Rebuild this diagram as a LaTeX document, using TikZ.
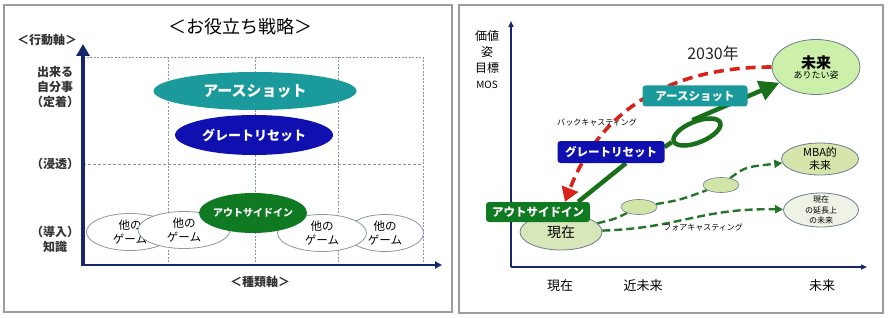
\documentclass[tikz,border=0pt]{standalone}
\usepackage{fontspec}
\setmainfont{Noto Sans CJK JP}
\usetikzlibrary{shapes.geometric,arrows.meta,backgrounds}

\definecolor{frameGray}{HTML}{9C9C9C}
\definecolor{axisNavy}{HTML}{17276B}
\definecolor{gridBlue}{HTML}{8893B0}
\definecolor{earthTeal}{HTML}{1B9A9C}
\definecolor{resetBlue}{HTML}{1010B0}
\definecolor{outGreen}{HTML}{0F7A22}
\definecolor{pathGreen}{HTML}{1A6F1A}
\definecolor{backRed}{HTML}{D8231B}
\definecolor{dashGreen}{HTML}{24762A}
\definecolor{ovalGray}{HTML}{8C95A8}
\definecolor{edgeGray}{HTML}{6C7E8C}
\definecolor{futureFill}{HTML}{CCF0AA}
\definecolor{mbaFill}{HTML}{D5E5AB}
\definecolor{stepFill}{HTML}{D2E5A8}
\definecolor{nowFill}{HTML}{D7E7BA}
\definecolor{extFill}{HTML}{EEF3E6}

% text that does not widen or heighten its oval
\newcommand{\ovaltext}[1]{\makebox[0pt]{\raisebox{-.4em}[0pt][0pt]{\begin{tabular}{@{}c@{}}#1\end{tabular}}}}

\begin{document}
\begin{tikzpicture}[
x=1pt, y=-1pt, % one unit = one pixel of the reference, y runs downwards
>=stealth,
every node/.style={inner sep=2pt},
frame/.style={draw=frameGray, line width=1.2pt},
gridline/.style={draw=gridBlue, line width=0.8pt, dash pattern=on 2pt off 1.5pt},
axisthick/.style={draw=axisNavy, line width=4pt, >={Triangle[length=12pt,width=13pt]}},
axisthin/.style={draw=axisNavy, line width=2pt, >={Triangle[length=7pt,width=7pt]}},
axisright/.style={draw=axisNavy, line width=1.5pt, >={Triangle[length=6pt,width=5pt]}},
axislabel/.style={font=\bfseries\fontsize{12}{15}\selectfont, align=center, text=black!80},
plainlabel/.style={font=\fontsize{13}{16}\selectfont, text=black},
bigoval/.style={ellipse, inner sep=0pt, text=white, font=\bfseries\fontsize{15}{17}\selectfont},
gameoval/.style={ellipse, inner sep=0pt, draw=ovalGray, line width=0.8pt, fill=white, minimum height=37, font=\fontsize{11.5}{14}\selectfont},
tagbox/.style={rounded corners=3pt, minimum width=105, minimum height=21, text=white, font=\bfseries\fontsize{11.5}{13}\selectfont},
goaloval/.style={ellipse, inner sep=0pt, draw=edgeGray, line width=0.8pt},
stepoval/.style={ellipse, inner sep=0pt, draw=edgeGray, line width=0.6pt, fill=stepFill, minimum width=36, minimum height=15},
forecast/.style={draw=dashGreen, line width=2.4pt, dash pattern=on 8pt off 4pt, >={Triangle[length=8pt,width=8pt]}},
backcast/.style={draw=backRed, line width=3.6pt, dash pattern=on 10pt off 6pt, >={Triangle[length=14pt,width=17pt]}},
growth/.style={draw=pathGreen, line width=4.5pt, >={Triangle[length=20pt,width=20pt]}}
]

% ================= Frames =================
\useasboundingbox (0,0) rectangle (890,318);
\draw[frame] (4,5) rectangle (452,312);
\draw[frame] (459,5) rectangle (883,313);

% ================= Left panel: grid and axes =================
\draw[gridline] (83,57) -- (423,57);
\draw[gridline, dash pattern=on 3pt off 2pt] (83,164) -- (423,164);
\foreach \gx in {168,255,338,423}
  \draw[gridline] (\gx,57) -- (\gx,265);

\coordinate (originL) at (83,266);
\coordinate (topL) at (83,44);
\coordinate (rightL) at (442,265);
\draw[axisthin, ->] (82,265) -- (rightL);
\draw[axisthick, ->] (originL) -- (topL);

% Titles and axis labels
\node[font=\fontsize{18}{20}\selectfont] (titleL) at (240,27) {＜お役立ち戦略＞};
\node[axislabel] (actAxis) at (47,40) {＜行動軸＞};
\node[axislabel] (fixLabel) at (55,87) {出来る\\自分事\\（定着）};
\node[axislabel] (soakLabel) at (55,164) {（浸透）};
\node[axislabel] (introLabel) at (55,239) {（導入）\\知識};
\node[axislabel] (kindAxis) at (260,282) {＜種類軸＞};

% Other games (back to front)
\node[gameoval, minimum width=87] (gameA) at (130,232) {\ovaltext{他の\\ゲーム}};
\node[gameoval, minimum width=77] (gameD) at (385,233) {\ovaltext{他の\\ゲーム}};
\node[gameoval, minimum width=92] (gameB) at (184,230) {\ovaltext{他の\\ゲーム}};
\node[gameoval, minimum width=89] (gameC) at (322,233) {\ovaltext{他の\\ゲーム}};

% Strategy ovals
\node[bigoval, fill=outGreen, minimum width=108, minimum height=40,
      font=\bfseries\fontsize{10}{12}\selectfont] (outInL) at (253,213) {\ovaltext{アウトサイドイン}};
\node[bigoval, fill=earthTeal, minimum width=203, minimum height=38] (earthL) at (255,91) {\ovaltext{アースショット}};
\node[bigoval, fill=resetBlue, minimum width=158, minimum height=40,
      font=\bfseries\fontsize{13}{15}\selectfont] (resetL) at (254,135) {\ovaltext{グレートリセット}};

% ================= Right panel: axes =================
\coordinate (originR) at (511,267);
\coordinate (topR) at (511,21);
\coordinate (rightR) at (867,267);
\draw[axisright, ->] (originR) -- (topR);
\draw[axisright, ->] (originR) -- (rightR);

\node[font=\fontsize{12}{16}\selectfont, align=center] (valueAxis) at (487,60)
  {価値\\姿\\目標\\{\fontsize{10}{16}\selectfont MOS}};
\node[font=\fontsize{16}{18}\selectfont, text=black!85] (year) at (713,53) {2030年};
\node[plainlabel] (nowT) at (560,286) {現在};
\node[plainlabel] (nearT) at (643,286) {近未来};
\node[plainlabel] (futureT) at (822,286) {未来};

% Goals and steps
\node[goaloval, fill=futureFill, minimum width=88, minimum height=55] (future) at (816,67)
  {\ovaltext{{\bfseries\fontsize{15}{17}\selectfont 未来}\\[-2pt]{\fontsize{9}{11}\selectfont ありたい姿}}};
\node[goaloval, fill=mbaFill, minimum width=77, minimum height=32,
      font=\fontsize{11}{13}\selectfont] (mba) at (820,159) {\ovaltext{MBA的\\未来}};
\node[goaloval, fill=extFill, minimum width=75, minimum height=34,
      font=\fontsize{8}{10.5}\selectfont] (extend) at (821,210) {\ovaltext{現在\\の延長上\\の未来}};
\node[stepoval] (stepA) at (639,207) {};
\node[stepoval] (stepB) at (721,185) {};
\node[goaloval, fill=nowFill, minimum width=82, minimum height=36,
      font=\fontsize{14}{16}\selectfont] (now) at (561,232) {\ovaltext{現在}};

% Loop of the growth path
\node[ellipse, draw=pathGreen, line width=4.5pt, minimum width=50, minimum height=21,
      inner sep=0pt, rotate=22] (loop) at (697,132) {};

% Tags
\node[tagbox, fill=earthTeal] (earthR) at (695,96) {アースショット};
\node[tagbox, fill=resetBlue, minimum width=107, minimum height=22] (resetR) at (611,152) {グレートリセット};
\node[tagbox, fill=outGreen, minimum width=104, minimum height=20] (outInR) at (538,212) {アウトサイドイン};

\node[font=\fontsize{8}{10}\selectfont] (backLabel) at (597,122) {バックキャスティング};
\node[font=\fontsize{8}{10}\selectfont] (foreLabel) at (703,227) {フォアキャスティング};

% ================= Connectors =================
\begin{scope}[on background layer]
% forecasting
\draw[forecast] (now) .. controls (615,219) .. (stepA);
\draw[forecast] (stepA) .. controls (680,200) .. (stepB);
\draw[forecast, ->] (stepB) .. controls (745,167) .. (mba);
\draw[forecast, ->] (now) .. controls (680,228) and (700,208) .. (extend);

% backcasting
\draw[backcast, ->] (future.west) .. controls (670,67) and (600,110) .. ([xshift=27pt]outInR.north);

% growth path
\draw[growth] ([xshift=-12pt]outInR.north east) -- ([xshift=15pt]resetR.south);
\draw[growth] ([yshift=5pt]resetR.east) -- (loop.west);
\draw[growth, ->] (loop.north) -- (future);
\end{scope}

\end{tikzpicture}
\end{document}
